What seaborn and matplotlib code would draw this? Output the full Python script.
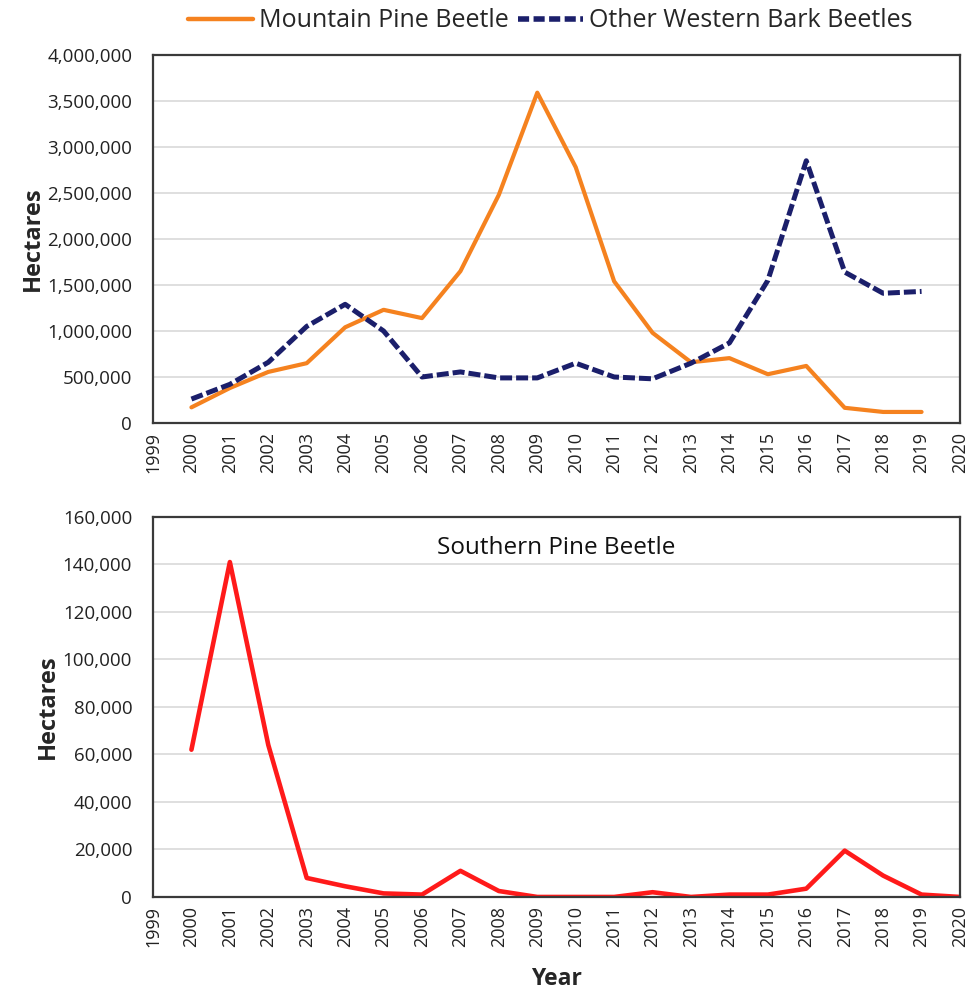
import pandas as pd
import seaborn as sns
import matplotlib.pyplot as plt
from matplotlib.ticker import FuncFormatter, MultipleLocator
from matplotlib.lines import Line2D

# Data (hectares)
years = list(range(2000, 2020))
mountain_pine = [170000, 380000, 555000, 650000, 1040000, 1230000, 1140000, 1650000,
                 2480000, 3590000, 2780000, 1540000, 980000, 660000, 705000, 530000,
                 620000, 165000, 120000, 120000]
other_western = [260000, 420000, 660000, 1050000, 1290000, 1000000, 500000, 555000,
                 490000, 490000, 650000, 500000, 480000, 650000, 870000, 1550000,
                 2850000, 1640000, 1410000, 1430000]

spb_years = list(range(2000, 2021))
southern_pine = [62000, 141000, 64000, 8000, 4500, 1500, 1000, 11000, 2500, 0, 0, 0,
                 2000, 0, 1000, 1000, 3500, 19500, 9000, 1000, 0]

orange = "#F5821F"
navy = "#1B1F6B"
red = "#FF1A1A"
dark = "#3A3A3A"

sns.set_style("white")
plt.rcParams['font.family'] = ['Open Sans', 'DejaVu Sans']

west = pd.DataFrame({"Year": years, "Mountain Pine Beetle": mountain_pine,
                     "Other Western Bark Beetles": other_western})
south = pd.DataFrame({"Year": spb_years, "Southern Pine Beetle": southern_pine})

fig = plt.figure(figsize=(9.69, 9.92), dpi=100)
ax1 = fig.add_axes([0.1579, 0.5736, 0.8328, 0.3710])
ax2 = fig.add_axes([0.1579, 0.0958, 0.8328, 0.3831])

sns.lineplot(data=west, x="Year", y="Mountain Pine Beetle", ax=ax1,
             color=orange, linewidth=3.0)
sns.lineplot(data=west, x="Year", y="Other Western Bark Beetles", ax=ax1,
             color=navy, linewidth=3.6, dashes=False)
ax1.lines[-1].set_dashes((2.4, 0.8))

sns.lineplot(data=south, x="Year", y="Southern Pine Beetle", ax=ax2,
             color=red, linewidth=3.3)

fmt = FuncFormatter(lambda v, p: f"{int(v):,}")
for ax, top, step in [(ax1, 4000000, 500000), (ax2, 160000, 20000)]:
    ax.set_xlim(1999, 2020)
    ax.set_ylim(0, top)
    ax.xaxis.set_major_locator(MultipleLocator(1))
    ax.yaxis.set_major_locator(MultipleLocator(step))
    ax.yaxis.set_major_formatter(fmt)
    ax.grid(axis="y", color="#D9D9D9", linewidth=1.2)
    ax.set_axisbelow(True)
    for s in ax.spines.values():
        s.set_color(dark)
        s.set_linewidth(1.6)
    ax.tick_params(axis="x", rotation=90, labelsize=13, length=7, width=1.4,
                   color=dark, direction="inout", labelcolor="#222222", pad=3)
    ax.tick_params(axis="y", length=0, labelsize=13.5, labelcolor="#222222", pad=15)
    ax.set_ylabel("Hectares", fontsize=17, fontweight="bold", labelpad=2)
    ax.set_xlabel("")

ax2.set_xlabel("Year", fontsize=16.5, fontweight="bold", labelpad=14)
ax2.text(0.5, 0.918, "Southern Pine Beetle", transform=ax2.transAxes,
         ha="center", va="center", fontsize=17.5, color="#111111")

handles = [Line2D([], [], color=orange, linewidth=3.2),
           Line2D([], [], color=navy, linewidth=4, dashes=(2.0, 0.8))]
fig.legend(handles, ["Mountain Pine Beetle", "Other Western Bark Beetles"],
           loc="center", bbox_to_anchor=(0.568, 0.979), ncol=2, frameon=False,
           fontsize=18, handlelength=2.6, handletextpad=0.25, columnspacing=0.35)

fig.savefig("out.png", dpi=100)
